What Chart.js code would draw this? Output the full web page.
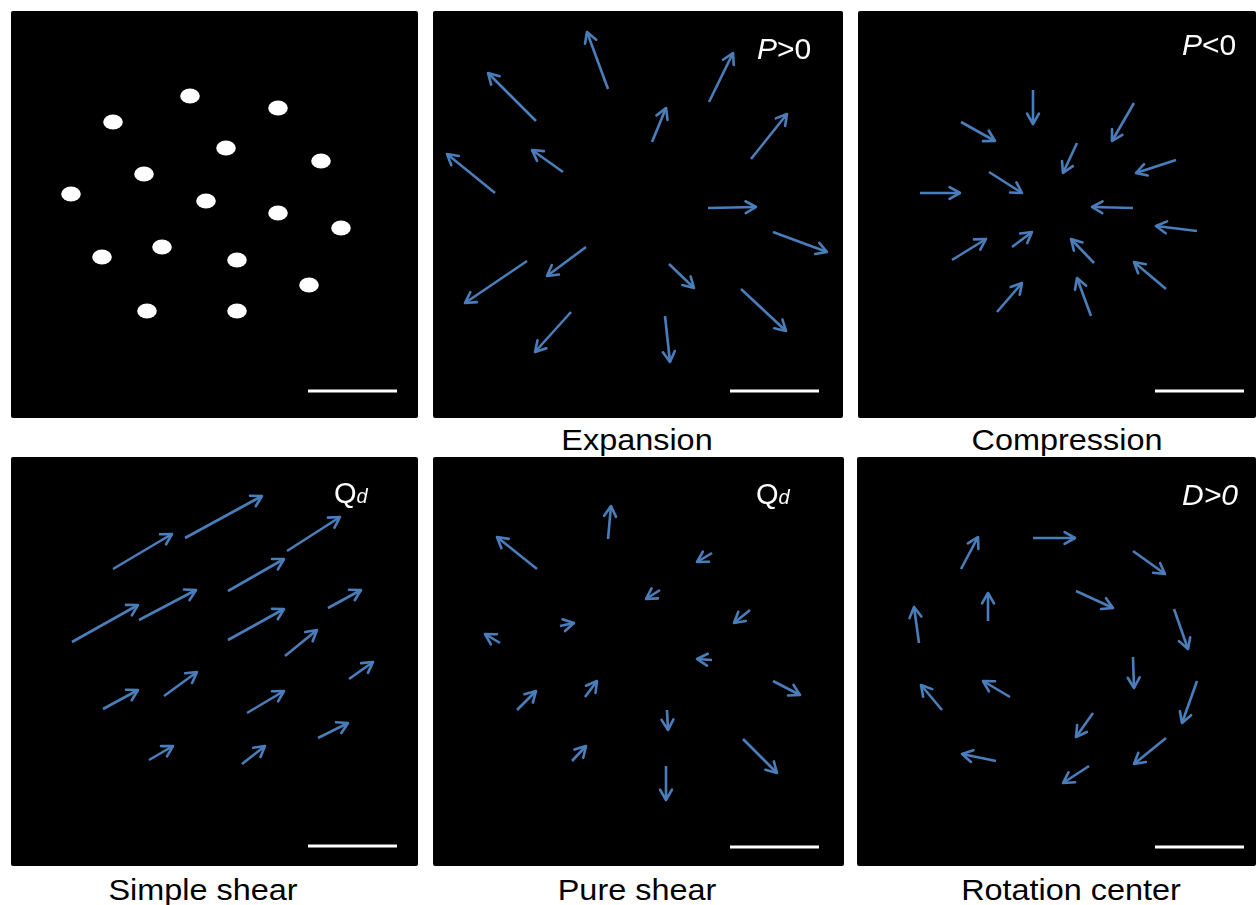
<!DOCTYPE html>
<html><head><meta charset="utf-8">
<script src="https://cdn.jsdelivr.net/npm/chart.js@4"></script>
<style>
body{margin:0;background:#fff;width:1256px;height:905px;overflow:hidden;position:relative;font-family:"Liberation Sans",Arial,sans-serif;}
.panel{position:absolute;display:block;background:#000;border-radius:2px;}
.lab{position:absolute;color:#fff;font-size:30px;line-height:30px;white-space:nowrap;}
.cap{position:absolute;color:#000;font-size:30px;line-height:30px;white-space:nowrap;transform:translateX(-50%) scaleX(1.08);}
</style></head>
<body>
<canvas id="c1" class="panel"></canvas>
<canvas id="c2" class="panel"></canvas>
<canvas id="c3" class="panel"></canvas>
<canvas id="c4" class="panel"></canvas>
<canvas id="c5" class="panel"></canvas>
<canvas id="c6" class="panel"></canvas>

<span class="lab" style="left:757px;top:34px;"><i>P</i>&gt;0</span>
<span class="lab" style="left:1182px;top:30px;"><i>P</i>&lt;0</span>
<span class="lab" style="left:334px;top:478px;"><span style="font-size:29px">Q</span><i style="font-size:20px">d</i></span>
<span class="lab" style="left:756px;top:479px;"><span style="font-size:29px">Q</span><i style="font-size:20px">d</i></span>
<span class="lab" style="left:1182px;top:480px;"><i>D&gt;0</i></span>

<span class="cap" style="left:637px;top:425px;">Expansion</span>
<span class="cap" style="left:1067px;top:425px;">Compression</span>
<span class="cap" style="left:203px;top:875px;">Simple shear</span>
<span class="cap" style="left:637px;top:875px;">Pure shear</span>
<span class="cap" style="left:1071px;top:875px;">Rotation center</span>

<script>
// ---- Field-of-view extents (position units) ----
const fov1 = [11, 418, 11, 418];
const fov2 = [433, 843, 11, 418];
const fov3 = [858, 1256, 11, 418];
const fov4 = [11, 418, 457, 866];
const fov5 = [433, 844, 457, 866];
const fov6 = [857, 1256, 457, 866];

// ---- Panel 1: particle positions ----
const dotX = [190, 278, 113, 226, 321, 144, 71, 206, 278, 341, 162, 102, 237, 309, 147, 237];
const dotY = [96, 108, 122, 148, 161, 174, 194, 201, 213, 228, 247, 257, 260, 285, 311, 311];

// ---- Panel 2: Expansion (P>0) ----
const expTailX = [608, 536, 709, 652, 751, 495, 563, 708, 773, 586, 527, 669, 741, 571, 665];
const expTailY = [89, 121, 102, 142, 159, 193, 172, 208, 232, 247, 261, 264, 289, 312, 316];
const expHeadX = [587, 488, 733, 666, 787, 447, 532, 756, 827, 547, 465, 694, 786, 535, 670];
const expHeadY = [32, 73, 53, 108, 114, 154, 150, 207, 252, 276, 303, 288, 331, 352, 362];

// ---- Panel 3: Compression (P<0) ----
const comTailX = [1033, 961, 1134, 1077, 1176, 989, 920, 1133, 1197, 952, 1012, 1094, 1166, 997, 1091];
const comTailY = [90, 122, 103, 143, 160, 172, 193, 208, 231, 260, 247, 263, 289, 312, 316];
const comHeadX = [1033, 995, 1112, 1063, 1136, 1022, 960, 1092, 1156, 986, 1032, 1071, 1134, 1022, 1077];
const comHeadY = [124, 141, 141, 173, 173, 193, 193, 207, 226, 239, 232, 239, 262, 283, 278];

// ---- Panel 4: Simple shear (Qd) ----
const sshTailX = [113, 185, 287, 72, 139, 228, 228, 328, 285, 103, 164, 247, 349, 149, 242, 318];
const sshTailY = [569, 538, 551, 642, 620, 591, 640, 608, 656, 709, 696, 713, 679, 760, 764, 738];
const sshHeadX = [172, 262, 340, 138, 196, 284, 284, 361, 317, 138, 197, 284, 373, 173, 265, 348];
const sshHeadY = [534, 496, 517, 605, 590, 559, 609, 590, 630, 690, 672, 691, 662, 746, 746, 723];

// ---- Panel 5: Pure shear (Qd) ----
const pshTailX = [608, 537, 712, 660, 750, 560, 500, 712, 773, 517, 585, 667, 743, 572, 666];
const pshTailY = [539, 569, 553, 590, 610, 626, 643, 660, 681, 710, 697, 710, 739, 761, 766];
const pshHeadX = [611, 497, 697, 646, 734, 574, 485, 697, 800, 536, 597, 668, 777, 586, 666];
const pshHeadY = [506, 537, 562, 599, 623, 623, 634, 659, 695, 691, 681, 730, 773, 746, 800];

// ---- Panel 6: Rotation center (D>0) ----
const rotTailX = [1033, 961, 1133, 1076, 988, 919, 1174, 1133, 1010, 942, 1197, 1093, 1166, 996, 1089];
const rotTailY = [538, 569, 551, 591, 621, 643, 609, 657, 697, 710, 681, 713, 738, 761, 766];
const rotHeadX = [1075, 978, 1165, 1113, 988, 914, 1188, 1134, 983, 921, 1182, 1076, 1134, 962, 1063];
const rotHeadY = [538, 537, 574, 608, 593, 607, 649, 688, 681, 685, 723, 737, 764, 754, 783];

// ---- Scale bars [x start, x end, y] ----
const bar1 = [308, 397, 391];
const bar2 = [730, 819, 391];
const bar3 = [1155, 1244, 391];
const bar4 = [308, 397, 846];
const bar5 = [730, 819, 847];
const bar6 = [1155, 1244, 847];

const ARROW_COLOR = '#4a7ebb';

const arrowHeadPlugin = {
  id: 'arrowHeads',
  afterDatasetsDraw(chart) {
    const ctx = chart.ctx;
    chart.data.datasets.forEach((ds, i) => {
      if (!ds.isArrow) return;
      const pts = chart.getDatasetMeta(i).data;
      const a = pts[0], b = pts[1];
      const ang = Math.atan2(b.y - a.y, b.x - a.x);
      const L = 12, w = 0.52;
      ctx.save();
      ctx.strokeStyle = ds.borderColor;
      ctx.lineWidth = ds.borderWidth;
      ctx.lineCap = 'round';
      ctx.lineJoin = 'round';
      ctx.beginPath();
      ctx.moveTo(b.x - L * Math.cos(ang - w), b.y - L * Math.sin(ang - w));
      ctx.lineTo(b.x, b.y);
      ctx.lineTo(b.x - L * Math.cos(ang + w), b.y - L * Math.sin(ang + w));
      ctx.stroke();
      ctx.restore();
    });
  }
};

function arrowSets(tx, ty, hx, hy) {
  return tx.map((_, k) => ({
    data: [{x: tx[k], y: ty[k]}, {x: hx[k], y: hy[k]}],
    showLine: true, isArrow: true,
    borderColor: ARROW_COLOR, borderWidth: 2.6, borderCapStyle: 'butt',
    pointRadius: 0, clip: false
  }));
}
function barSet(b) {
  return {
    data: [{x: b[0], y: b[2]}, {x: b[1], y: b[2]}],
    showLine: true, borderColor: '#ffffff', borderWidth: 3,
    pointRadius: 0, borderCapStyle: 'butt'
  };
}

function makePanel(id, fov, datasets) {
  const cv = document.getElementById(id);
  cv.width = fov[1] - fov[0];
  cv.height = fov[3] - fov[2];
  cv.style.left = fov[0] + 'px';
  cv.style.top = fov[2] + 'px';
  cv.style.width = cv.width + 'px';
  cv.style.height = cv.height + 'px';
  new Chart(cv, {
    type: 'scatter',
    data: {datasets},
    options: {
      responsive: false, animation: false, events: [],
      layout: {padding: 0, autoPadding: false},
      plugins: {legend: {display: false}, tooltip: {enabled: false}},
      scales: {
        x: {type: 'linear', min: fov[0], max: fov[1], display: false},
        y: {type: 'linear', min: fov[2], max: fov[3], reverse: true, display: false}
      }
    },
    plugins: [arrowHeadPlugin]
  });
}

// elliptical particle marker
const dotImg = document.createElement('canvas');
dotImg.width = 20; dotImg.height = 16;
(function(){
  const g = dotImg.getContext('2d');
  g.fillStyle = '#fff';
  g.beginPath();
  g.ellipse(10, 8, 9.8, 7.6, 0, 0, Math.PI * 2);
  g.fill();
})();

makePanel('c1', fov1, [
  {data: dotX.map((x, k) => ({x, y: dotY[k]})), pointStyle: dotImg, pointRadius: 10, showLine: false},
  barSet(bar1)
]);
makePanel('c2', fov2, [...arrowSets(expTailX, expTailY, expHeadX, expHeadY), barSet(bar2)]);
makePanel('c3', fov3, [...arrowSets(comTailX, comTailY, comHeadX, comHeadY), barSet(bar3)]);
makePanel('c4', fov4, [...arrowSets(sshTailX, sshTailY, sshHeadX, sshHeadY), barSet(bar4)]);
makePanel('c5', fov5, [...arrowSets(pshTailX, pshTailY, pshHeadX, pshHeadY), barSet(bar5)]);
makePanel('c6', fov6, [...arrowSets(rotTailX, rotTailY, rotHeadX, rotHeadY), barSet(bar6)]);
</script>
</body></html>
